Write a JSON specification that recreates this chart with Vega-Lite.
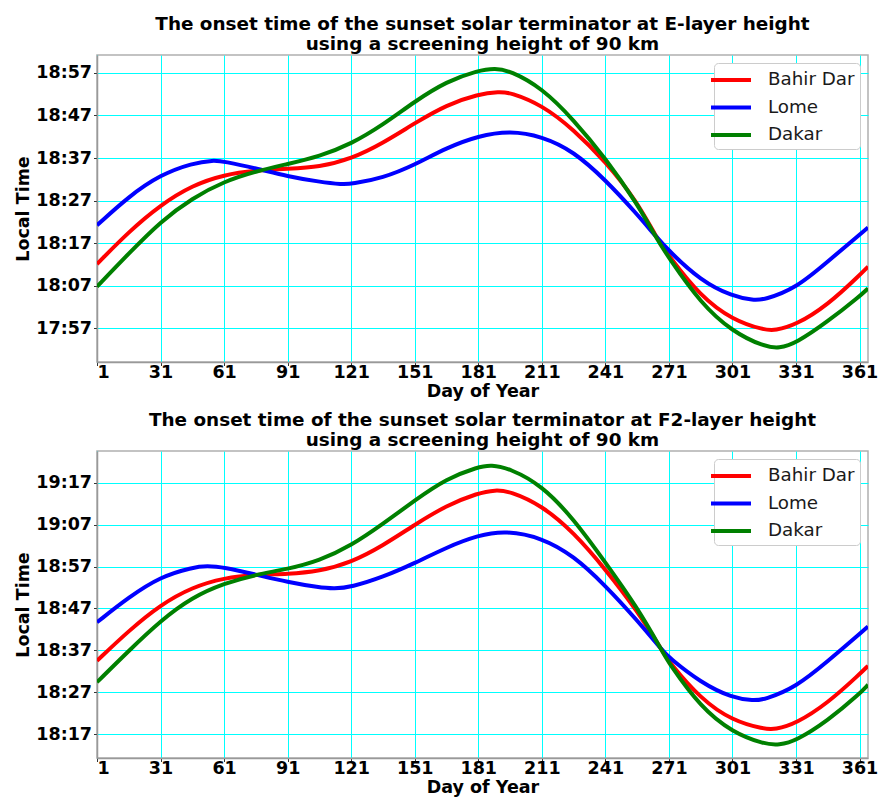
{
  "$schema": "https://vega.github.io/schema/vega-lite/v6.json",
  "background": "white",
  "padding": {"left": 14, "top": 13, "right": 2, "bottom": 0},
  "spacing": 8,
  "config": {
    "font": "DejaVu Sans",
    "view": {"stroke": "#b0b0b0", "strokeWidth": 1.5},
    "title": {"font": "DejaVu Sans", "fontSize": 18.4, "fontWeight": "bold", "color": "black", "lineHeight": 20, "offset": 2, "anchor": "middle"},
    "axis": {
      "labelFont": "DejaVu Sans", "labelFontSize": 17.5, "labelFontWeight": "bold", "labelColor": "black",
      "titleFont": "DejaVu Sans", "titleFontSize": 17.5, "titleFontWeight": "bold", "titleColor": "black",
      "gridColor": "#00ffff", "gridWidth": 1, "gridOpacity": 1,
      "tickColor": "#333", "tickSize": 3.5, "tickWidth": 1,
      "domainColor": "#999", "domainWidth": 1.5, "labelPadding": 2
    },
    "legend": {
      "orient": "top-right", "offset": 8,
      "fillColor": "white", "strokeColor": "#cccccc", "cornerRadius": 4, "padding": 5,
      "labelFont": "DejaVu Sans", "labelFontSize": 18.3, "labelColor": "#1a1a1a", "labelOffset": 25,
      "symbolType": "M-2,0H2", "symbolSize": 400, "symbolStrokeWidth": 4, "rowPadding": 6.5
    }
  },
  "datasets": {
    "E": [
      {"d":1,"c":"Bahir Dar","t":1092.1},{"d":16,"c":"Bahir Dar","t":1099.7},{"d":31,"c":"Bahir Dar","t":1106.0},{"d":46,"c":"Bahir Dar","t":1110.6},{"d":61,"c":"Bahir Dar","t":1113.1},{"d":76,"c":"Bahir Dar","t":1114.1},{"d":91,"c":"Bahir Dar","t":1114.5},{"d":106,"c":"Bahir Dar","t":1114.9},{"d":121,"c":"Bahir Dar","t":1116.8},{"d":136,"c":"Bahir Dar","t":1120.5},{"d":151,"c":"Bahir Dar","t":1125.2},{"d":166,"c":"Bahir Dar","t":1129.5},{"d":181,"c":"Bahir Dar","t":1132.0},{"d":191,"c":"Bahir Dar","t":1132.6},{"d":196,"c":"Bahir Dar","t":1132.4},{"d":211,"c":"Bahir Dar","t":1129.5},{"d":226,"c":"Bahir Dar","t":1123.7},{"d":241,"c":"Bahir Dar","t":1116.2},{"d":256,"c":"Bahir Dar","t":1106.8},{"d":265,"c":"Bahir Dar","t":1098.4},{"d":271,"c":"Bahir Dar","t":1094.0},{"d":286,"c":"Bahir Dar","t":1084.5},{"d":301,"c":"Bahir Dar","t":1079.0},{"d":316,"c":"Bahir Dar","t":1076.6},{"d":321,"c":"Bahir Dar","t":1076.5},{"d":331,"c":"Bahir Dar","t":1077.8},{"d":346,"c":"Bahir Dar","t":1082.5},{"d":361,"c":"Bahir Dar","t":1089.5},{"d":365,"c":"Bahir Dar","t":1091.5},
      {"d":1,"c":"Lome","t":1101.2},{"d":16,"c":"Lome","t":1108.0},{"d":31,"c":"Lome","t":1113.1},{"d":46,"c":"Lome","t":1115.8},{"d":56,"c":"Lome","t":1116.5},{"d":61,"c":"Lome","t":1116.2},{"d":76,"c":"Lome","t":1114.6},{"d":91,"c":"Lome","t":1112.7},{"d":106,"c":"Lome","t":1111.4},{"d":117,"c":"Lome","t":1110.8},{"d":121,"c":"Lome","t":1110.9},{"d":136,"c":"Lome","t":1112.3},{"d":151,"c":"Lome","t":1115.4},{"d":166,"c":"Lome","t":1119.4},{"d":181,"c":"Lome","t":1122.2},{"d":196,"c":"Lome","t":1123.4},{"d":211,"c":"Lome","t":1122.1},{"d":226,"c":"Lome","t":1118.6},{"d":241,"c":"Lome","t":1111.9},{"d":256,"c":"Lome","t":1103.8},{"d":265,"c":"Lome","t":1098.5},{"d":271,"c":"Lome","t":1095.2},{"d":286,"c":"Lome","t":1088.2},{"d":301,"c":"Lome","t":1084.5},{"d":311,"c":"Lome","t":1083.6},{"d":316,"c":"Lome","t":1083.7},{"d":331,"c":"Lome","t":1086.4},{"d":346,"c":"Lome","t":1092.7},{"d":361,"c":"Lome","t":1099.0},{"d":365,"c":"Lome","t":1100.7},
      {"d":1,"c":"Dakar","t":1086.8},{"d":16,"c":"Dakar","t":1094.6},{"d":31,"c":"Dakar","t":1102.1},{"d":46,"c":"Dakar","t":1107.6},{"d":61,"c":"Dakar","t":1111.5},{"d":76,"c":"Dakar","t":1113.9},{"d":91,"c":"Dakar","t":1115.6},{"d":106,"c":"Dakar","t":1117.4},{"d":121,"c":"Dakar","t":1120.3},{"d":136,"c":"Dakar","t":1124.8},{"d":151,"c":"Dakar","t":1130.3},{"d":166,"c":"Dakar","t":1135.0},{"d":181,"c":"Dakar","t":1137.6},{"d":189,"c":"Dakar","t":1138.1},{"d":196,"c":"Dakar","t":1137.5},{"d":211,"c":"Dakar","t":1133.5},{"d":226,"c":"Dakar","t":1126.0},{"d":241,"c":"Dakar","t":1117.0},{"d":256,"c":"Dakar","t":1106.3},{"d":265,"c":"Dakar","t":1098.3},{"d":271,"c":"Dakar","t":1093.5},{"d":286,"c":"Dakar","t":1082.9},{"d":301,"c":"Dakar","t":1076.2},{"d":316,"c":"Dakar","t":1072.7},{"d":323,"c":"Dakar","t":1072.3},{"d":331,"c":"Dakar","t":1073.5},{"d":346,"c":"Dakar","t":1078.6},{"d":361,"c":"Dakar","t":1084.5},{"d":365,"c":"Dakar","t":1086.4}
    ],
    "F2": [
      {"d":1,"c":"Bahir Dar","t":1114.5},{"d":16,"c":"Bahir Dar","t":1121.7},{"d":31,"c":"Bahir Dar","t":1127.9},{"d":46,"c":"Bahir Dar","t":1132.1},{"d":61,"c":"Bahir Dar","t":1134.3},{"d":76,"c":"Bahir Dar","t":1135.1},{"d":91,"c":"Bahir Dar","t":1135.2},{"d":106,"c":"Bahir Dar","t":1135.9},{"d":121,"c":"Bahir Dar","t":1138.0},{"d":136,"c":"Bahir Dar","t":1142.0},{"d":151,"c":"Bahir Dar","t":1147.0},{"d":166,"c":"Bahir Dar","t":1151.6},{"d":181,"c":"Bahir Dar","t":1154.6},{"d":189,"c":"Bahir Dar","t":1155.3},{"d":196,"c":"Bahir Dar","t":1155.0},{"d":211,"c":"Bahir Dar","t":1151.6},{"d":226,"c":"Bahir Dar","t":1145.2},{"d":241,"c":"Bahir Dar","t":1136.4},{"d":256,"c":"Bahir Dar","t":1126.5},{"d":268,"c":"Bahir Dar","t":1116.8},{"d":271,"c":"Bahir Dar","t":1114.3},{"d":286,"c":"Bahir Dar","t":1105.4},{"d":301,"c":"Bahir Dar","t":1100.2},{"d":316,"c":"Bahir Dar","t":1098.2},{"d":321,"c":"Bahir Dar","t":1098.1},{"d":331,"c":"Bahir Dar","t":1099.5},{"d":346,"c":"Bahir Dar","t":1104.4},{"d":361,"c":"Bahir Dar","t":1111.3},{"d":365,"c":"Bahir Dar","t":1113.3},
      {"d":1,"c":"Lome","t":1123.7},{"d":16,"c":"Lome","t":1129.7},{"d":31,"c":"Lome","t":1134.6},{"d":46,"c":"Lome","t":1136.8},{"d":53,"c":"Lome","t":1137.2},{"d":61,"c":"Lome","t":1136.8},{"d":76,"c":"Lome","t":1135.1},{"d":91,"c":"Lome","t":1133.3},{"d":106,"c":"Lome","t":1132.0},{"d":113,"c":"Lome","t":1131.7},{"d":121,"c":"Lome","t":1132.1},{"d":136,"c":"Lome","t":1134.5},{"d":151,"c":"Lome","t":1137.8},{"d":166,"c":"Lome","t":1141.6},{"d":181,"c":"Lome","t":1144.5},{"d":194,"c":"Lome","t":1145.6},{"d":211,"c":"Lome","t":1143.9},{"d":226,"c":"Lome","t":1139.6},{"d":241,"c":"Lome","t":1132.5},{"d":256,"c":"Lome","t":1124.2},{"d":268,"c":"Lome","t":1116.9},{"d":271,"c":"Lome","t":1115.3},{"d":286,"c":"Lome","t":1109.3},{"d":301,"c":"Lome","t":1105.6},{"d":311,"c":"Lome","t":1105.0},{"d":316,"c":"Lome","t":1105.2},{"d":331,"c":"Lome","t":1108.2},{"d":346,"c":"Lome","t":1114.4},{"d":361,"c":"Lome","t":1120.9},{"d":365,"c":"Lome","t":1122.7},
      {"d":1,"c":"Dakar","t":1109.4},{"d":16,"c":"Dakar","t":1116.9},{"d":31,"c":"Dakar","t":1124.1},{"d":46,"c":"Dakar","t":1129.7},{"d":61,"c":"Dakar","t":1133.0},{"d":76,"c":"Dakar","t":1135.1},{"d":91,"c":"Dakar","t":1136.4},{"d":106,"c":"Dakar","t":1138.4},{"d":121,"c":"Dakar","t":1142.0},{"d":136,"c":"Dakar","t":1147.2},{"d":151,"c":"Dakar","t":1152.8},{"d":166,"c":"Dakar","t":1158.0},{"d":181,"c":"Dakar","t":1160.8},{"d":187,"c":"Dakar","t":1161.3},{"d":196,"c":"Dakar","t":1160.4},{"d":211,"c":"Dakar","t":1156.4},{"d":226,"c":"Dakar","t":1148.4},{"d":241,"c":"Dakar","t":1138.0},{"d":256,"c":"Dakar","t":1127.3},{"d":268,"c":"Dakar","t":1116.7},{"d":271,"c":"Dakar","t":1113.9},{"d":286,"c":"Dakar","t":1103.4},{"d":301,"c":"Dakar","t":1097.4},{"d":316,"c":"Dakar","t":1094.6},{"d":323,"c":"Dakar","t":1094.4},{"d":331,"c":"Dakar","t":1095.4},{"d":346,"c":"Dakar","t":1100.2},{"d":361,"c":"Dakar","t":1106.6},{"d":365,"c":"Dakar","t":1108.8}
    ]
  },
  "vconcat": [
    {
      "title": {"text": ["The onset time of the sunset solar terminator at E-layer height", "using a screening height of 90 km"], "lineHeight": 20},
      "width": 771, "height": 307,
      "data": {"name": "E"},
      "mark": {"type": "line", "interpolate": "basis", "strokeWidth": 4, "clip": true},
      "encoding": {
        "x": {"field": "d", "type": "quantitative", "title": "Day of Year", "scale": {"domain": [1, 365], "nice": false, "zero": false},
              "axis": {"values": [1,31,61,91,121,151,181,211,241,271,301,331,361], "labelPadding": -2, "titlePadding": 1}},
        "y": {"field": "t", "type": "quantitative", "title": "Local Time", "scale": {"domain": [1069.1, 1141.2], "nice": false, "zero": false},
              "axis": {"values": [1077,1087,1097,1107,1117,1127,1137], "labelExpr": "floor(datum.value/60) + ':' + (datum.value % 60 < 10 ? '0' : '') + (datum.value % 60)", "titlePadding": 3}},
        "color": {"field": "c", "type": "nominal", "title": null, "scale": {"domain": ["Bahir Dar", "Lome", "Dakar"], "range": ["#ff0000", "#0000ff", "#008000"]}}
      }
    },
    {
      "title": {"text": ["The onset time of the sunset solar terminator at F2-layer height", "using a screening height of 90 km"], "lineHeight": 20},
      "width": 771, "height": 307,
      "data": {"name": "F2"},
      "mark": {"type": "line", "interpolate": "basis", "strokeWidth": 4, "clip": true},
      "encoding": {
        "x": {"field": "d", "type": "quantitative", "title": "Day of Year", "scale": {"domain": [1, 365], "nice": false, "zero": false},
              "axis": {"values": [1,31,61,91,121,151,181,211,241,271,301,331,361], "labelPadding": -2, "titlePadding": 1}},
        "y": {"field": "t", "type": "quantitative", "title": "Local Time", "scale": {"domain": [1091.3, 1164.6], "nice": false, "zero": false},
              "axis": {"values": [1097,1107,1117,1127,1137,1147,1157], "labelExpr": "floor(datum.value/60) + ':' + (datum.value % 60 < 10 ? '0' : '') + (datum.value % 60)", "titlePadding": 3}},
        "color": {"field": "c", "type": "nominal", "title": null, "scale": {"domain": ["Bahir Dar", "Lome", "Dakar"], "range": ["#ff0000", "#0000ff", "#008000"]}}
      }
    }
  ],
  "resolve": {"scale": {"color": "independent"}}
}
